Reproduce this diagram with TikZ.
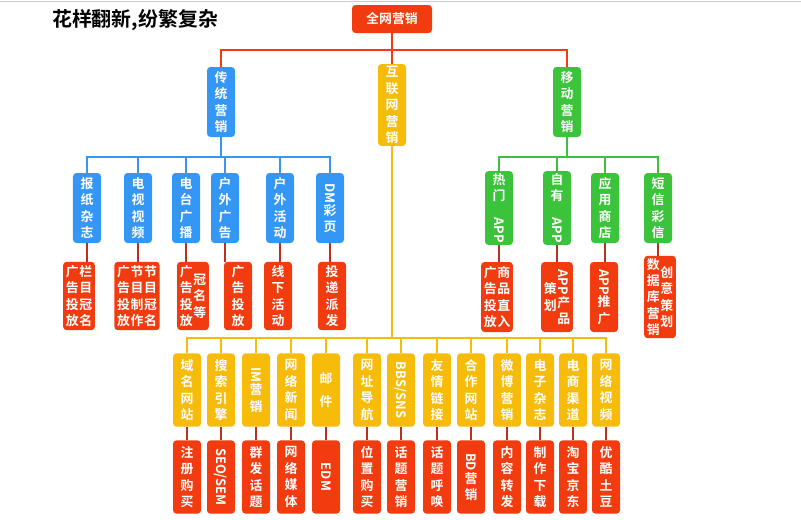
\documentclass[tikz,border=0pt]{standalone}
\usepackage{fontspec}
\setmainfont{Noto Sans CJK SC}[BoldFont={* Bold}]
\usetikzlibrary{arrows}
\XeTeXlinebreaklocale "zh"
\XeTeXlinebreakskip=0pt plus 1pt
\definecolor{cred}{HTML}{F23B0E}
\definecolor{cblue}{HTML}{3497F5}
\definecolor{cyellow}{HTML}{F7BB0A}
\definecolor{cgreen}{HTML}{3BC33B}
\definecolor{clink}{HTML}{B8321E}
\newcommand{\vc}[1]{\parbox[c]{1.05em}{\centering\baselineskip=14pt #1}}
\newcommand{\rt}[1]{\rotatebox{-90}{#1}}

\begin{document}
\begin{tikzpicture}[x=0.03cm,y=-0.03cm]
            \tikzstyle{box}=[rounded corners=3pt,text=white,font=\bfseries\fontsize{11}{14}\selectfont,inner sep=2pt,minimum width=0.84cm]
            \tikzstyle{rbox}=[box,fill=cred]
            \tikzstyle{bbox}=[box,fill=cblue,minimum height=2.1cm]
            \tikzstyle{ybox}=[box,fill=cyellow,minimum height=2.2cm]
            \tikzstyle{gbox}=[box,fill=cgreen,minimum height=2.1cm]
            \tikzstyle{edge}=[draw=cred,line width=1.3pt,-]
            \tikzstyle{link}=[draw=clink,line width=1.3pt,-]

            \useasboundingbox[fill=white] (0,0) rectangle (801,519);
            \draw[gray!40] (0,1) -- (801,1);

            \node[font=\bfseries\fontsize{17}{20}\selectfont,anchor=west] (title) at (48,20) {花样翻新,纷繁复杂};

            % top levels
            \node[rbox,minimum width=2.4cm,minimum height=0.84cm] (all) at (392,19) {全网营销};
            \node[bbox] (ct) at (221,102) {\vc{传统营销}};
            \node[ybox] (hl) at (392,105) {\vc{互联网营销}};
            \node[gbox] (yd) at (567,102) {\vc{移动营销}};

            \path[edge] (all.south) -- ++(0,17) -| (ct.north);
            \path[edge] (all.south) -- (hl.north);
            \path[edge] (all.south) -- ++(0,17) -| (yd.north);

            % traditional
            \node[bbox] (b1) at (87,208) {\vc{报纸杂志}};
            \node[bbox] (b2) at (138,208) {\vc{电视视频}};
            \node[bbox] (b3) at (186,208) {\vc{电台广播}};
            \node[bbox] (b4) at (225,208) {\vc{户外广告}};
            \node[bbox] (b5) at (280,208) {\vc{户外活动}};
            \node[bbox] (b6) at (330,208) {\vc{\rt{DM}\\彩页}};

            \node[rbox,minimum height=2.05cm] (r1) at (79,296) {\vc{广告投放}\vc{栏目冠名}};
            \node[rbox,minimum height=2.05cm] (r2) at (137,296) {\vc{广告投放}\vc{节目制作}\vc{节目冠名}};
            \node[rbox,minimum height=2.05cm] (r3) at (193,296) {\vc{广告投放}\vc{冠名等}};
            \node[rbox,minimum height=2.05cm] (r4) at (238,296) {\vc{广告投放}};
            \node[rbox,minimum height=2.05cm] (r5) at (278,296) {\vc{线下活动}};
            \node[rbox,minimum height=2.05cm] (r6) at (332,296) {\vc{投递派发}};

            \foreach \i in {1,...,6} {
                \path[draw=cblue,line width=1.3pt] (ct.south) -- ++(0,20) -| (b\i.north);
                \path[link] (b\i.south) -- (b\i.south |- r\i.north);
            }

            % mobile
            \node[gbox] (g1) at (499,208) {\vc{热门\\\rt{APP}}};
            \node[gbox] (g2) at (557,208) {\vc{自有\\\rt{APP}}};
            \node[gbox] (g3) at (605,208) {\vc{应用商店}};
            \node[gbox] (g4) at (658,208) {\vc{短信彩信}};

            \node[rbox,minimum height=2.1cm] (s1) at (497,297) {\vc{广告投放}\vc{商品直入}};
            \node[rbox,minimum height=2.1cm] (s2) at (557,297) {\vc{策划}\vc{\rt{APP}\\产品}};
            \node[rbox,minimum height=2.1cm] (s3) at (604,297) {\vc{\rt{APP}\\推广}};
            \node[rbox,minimum height=2.1cm] (s4) at (660,297) {\vc{数据库营销}\vc{创意策划}};

            \foreach \i in {1,...,4} {
                \path[draw=cgreen,line width=1.3pt] (yd.south) -- ++(0,20) -| (g\i.north);
                \path[link] (g\i.south) -- (g\i.south |- s\i.north);
            }

            % internet
            \foreach \x/\n/\t/\u in {187/1/域名网站/注册购买, 221/2/搜索引擎/\rt{SEO/SEM}, 256/3/\rt{IM}\\营销/群发话题,
                291/4/网络新闻/网络媒体, 326/5/邮\\[6pt]件/\rt{EDM}, 367/6/网址导航/位置购买,
                401/7/\rt{BBS/SNS}/话题营销, 437/8/友情链接/话题呼唤, 471/9/合作网站/\rt{BD}\\营销,
                507/10/微博营销/内容转发, 540/11/电子杂志/制作下载, 573/12/电商渠道/淘宝京东, 606/13/网络视频/优酷土豆} {
                \node[ybox] (y\n) at (\x,390) {\vc{\t}};
                \node[rbox,minimum height=2.2cm] (z\n) at (\x,477) {\vc{\u}};
                \path[draw=cyellow,line width=1.3pt] (hl.south) -- ++(0,192) -| (y\n.north);
                \path[link] (y\n.south) -- (z\n.north);
            }
        \end{tikzpicture}
\end{document}
